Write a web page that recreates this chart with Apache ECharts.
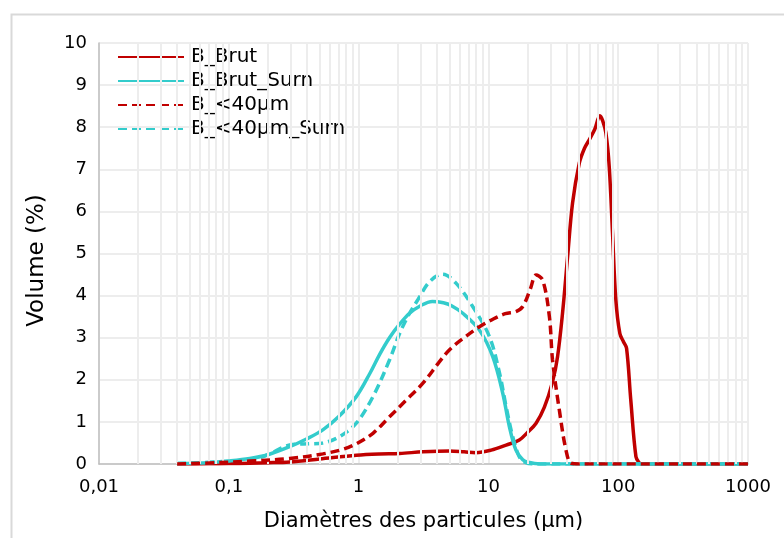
<!DOCTYPE html>
<html>
<head>
<meta charset="utf-8">
<script src="https://cdn.jsdelivr.net/npm/echarts@6/dist/echarts.min.js"></script>
<style>html,body{margin:0;padding:0;background:#fff}#c{width:784px;height:538px}</style>
</head>
<body>
<div id="c"></div>
<script>
const seriesNames = ['B_Brut', 'B_Brut_Surn', 'B_<40µm', 'B_<40µm_Surn'];
const yTicks = [0, 1, 2, 3, 4, 5, 6, 7, 8, 9, 10];
const xTicks = [0.01, 0.1, 1, 10, 100, 1000];
const xTickLabels = ['0,01', '0,1', '1', '10', '100', '1000'];

const brutX = [0.04, 0.07, 0.1, 0.145, 0.2, 0.294, 0.5, 0.96, 1.45, 2.07, 3.13, 5, 6.5, 8, 10.5, 13.7, 17.3, 20, 23.3, 27, 31.2, 34.1, 37.3, 40.7, 44.5, 50.2, 55, 59.8, 66, 72.3, 76, 80.4, 85.3, 90.4, 95.9, 103, 110, 116, 125, 137, 145, 150, 200, 1000];
const brutY = [0, 0.005, 0.01, 0.02, 0.03, 0.05, 0.12, 0.21, 0.24, 0.25, 0.29, 0.31, 0.29, 0.27, 0.33, 0.45, 0.57, 0.75, 0.97, 1.35, 1.95, 2.55, 3.6, 4.9, 6.2, 7.15, 7.5, 7.7, 7.95, 8.27, 8.15, 7.86, 7.06, 5.49, 3.9, 3.1, 2.9, 2.75, 1.52, 0.17, 0.03, 0, 0, 0];

const surnX = [0.04, 0.07, 0.1, 0.145, 0.2, 0.294, 0.4, 0.53, 0.7, 0.96, 1.22, 1.45, 1.73, 2.07, 2.47, 3, 3.7, 4.5, 5.2, 6.35, 8.53, 10.8, 12.9, 14.5, 16.3, 18.4, 20.3, 25, 1000];
const surnY = [0.01, 0.03, 0.07, 0.13, 0.22, 0.41, 0.6, 0.81, 1.12, 1.6, 2.15, 2.6, 3.0, 3.32, 3.58, 3.76, 3.86, 3.83, 3.76, 3.58, 3.18, 2.55, 1.68, 0.89, 0.33, 0.1, 0.04, 0, 0];

const fineX = [0.04, 0.08, 0.145, 0.294, 0.53, 0.757, 0.96, 1.29, 1.73, 2.33, 3.13, 4.2, 5, 6.5, 8.53, 11, 13.5, 16.3, 18.4, 21, 23.3, 26.2, 29.5, 31.2, 35.2, 39.6, 43.3, 50, 1000];
const fineY = [0, 0.03, 0.07, 0.13, 0.24, 0.35, 0.48, 0.73, 1.12, 1.52, 1.92, 2.43, 2.71, 3.0, 3.26, 3.45, 3.57, 3.62, 3.74, 4.15, 4.49, 4.37, 3.5, 2.47, 1.28, 0.33, 0.02, 0, 0];

const fineSurnX = [0.04, 0.08, 0.145, 0.2, 0.294, 0.42, 0.53, 0.714, 0.96, 1.29, 1.73, 2.07, 2.47, 2.86, 3.52, 4.45, 5.65, 7.57, 10.2, 12.2, 13.7, 15.4, 17.3, 18.9, 22, 1000];
const fineSurnY = [0.01, 0.05, 0.1, 0.22, 0.45, 0.48, 0.5, 0.65, 0.97, 1.6, 2.47, 3.1, 3.58, 3.9, 4.33, 4.51, 4.29, 3.74, 3.02, 2.15, 1.36, 0.65, 0.17, 0.05, 0, 0];

const pairs = (xs, ys) => xs.map((x, i) => [x, ys[i]]);

// minor log gridline positions (2..9 within each decade)
const minorGrid = [];
for (let d = -2; d < 3; d++) {
  for (let k = 2; k <= 9; k++) minorGrid.push({ xAxis: k * Math.pow(10, d) });
}

const RED = '#c00000';
const CYAN = '#33cccc';
const FONT = 'DejaVu Sans, Liberation Sans, sans-serif';
const GRID = '#ededed';
const LW = 3.5;

const chart = echarts.init(document.getElementById('c'), null, { renderer: 'canvas' });
chart.setOption({
  animation: false,
  backgroundColor: '#fff',
  graphic: [{
    type: 'rect', left: 9, top: 12, shape: { x: 0, y: 0, width: 800, height: 600 },
    style: { fill: 'none', stroke: '#d9d9d9', lineWidth: 2 }, silent: true, z: -10
  }],
  grid: { left: 99, right: 36, top: 43, bottom: 74, containLabel: false },
  legend: {
    data: seriesNames,
    orient: 'vertical',
    left: 117, top: 47, padding: 0,
    itemWidth: 66, itemHeight: 14, itemGap: 4,
    itemStyle: { opacity: 0 },
    textStyle: { fontFamily: FONT, fontSize: 20, lineHeight: 20, color: '#000', padding: [0, 0, 0, 2] }
  },
  xAxis: {
    type: 'log', logBase: 10, min: 0.01, max: 1000,
    name: 'Diamètres des particules (µm)', nameLocation: 'middle', nameGap: 47,
    nameTextStyle: { fontFamily: FONT, fontSize: 21, color: '#000' },
    axisLine: { lineStyle: { color: '#bfbfbf', width: 1.5 } },
    axisTick: { show: false },
    axisLabel: {
      fontFamily: FONT, fontSize: 18, color: '#000', margin: 14,
      formatter: v => { const i = xTicks.findIndex(t => Math.abs(t - v) / t < 1e-6); return i >= 0 ? xTickLabels[i] : ''; }
    },
    splitLine: { show: true, lineStyle: { color: GRID, width: 2 } }
  },
  yAxis: {
    type: 'value', min: 0, max: 10, interval: 1,
    name: 'Volume (%)', nameLocation: 'middle', nameGap: 50,
    nameTextStyle: { fontFamily: FONT, fontSize: 23, color: '#000', padding: [0, 14, 0, 0] },
    axisLine: { show: true, lineStyle: { color: '#bfbfbf', width: 1.5 } },
    axisTick: { show: false },
    axisLabel: { fontFamily: FONT, fontSize: 18, color: '#000', margin: 12,
      formatter: v => yTicks.includes(v) ? String(v) : '' },
    splitLine: { show: true, lineStyle: { color: GRID, width: 2 } }
  },
  series: [
    {
      name: 'gridMinor', type: 'line', data: [], z: 0, silent: true,
      markLine: { silent: true, symbol: ['none', 'none'], label: { show: false },
        lineStyle: { color: GRID, width: 2, type: 'solid' }, data: minorGrid, animation: false }
    },
    { name: seriesNames[0], type: 'line', data: pairs(brutX, brutY), smooth: 0.35, showSymbol: false, symbol: 'none', z: 2,
      lineStyle: { color: RED, width: LW }, itemStyle: { color: RED } },
    { name: seriesNames[1], type: 'line', data: pairs(surnX, surnY), smooth: 0.35, showSymbol: false, symbol: 'none', z: 4,
      lineStyle: { color: CYAN, width: LW }, itemStyle: { color: CYAN } },
    { name: seriesNames[2], type: 'line', data: pairs(fineX, fineY), smooth: 0.35, showSymbol: false, symbol: 'none', z: 5,
      lineStyle: { color: RED, width: LW, type: [9, 5] }, itemStyle: { color: RED } },
    { name: seriesNames[3], type: 'line', data: pairs(fineSurnX, fineSurnY), smooth: 0.35, showSymbol: false, symbol: 'none', z: 3,
      lineStyle: { color: CYAN, width: LW, type: [9, 5] }, itemStyle: { color: CYAN } }
  ]
});
</script>
</body>
</html>
